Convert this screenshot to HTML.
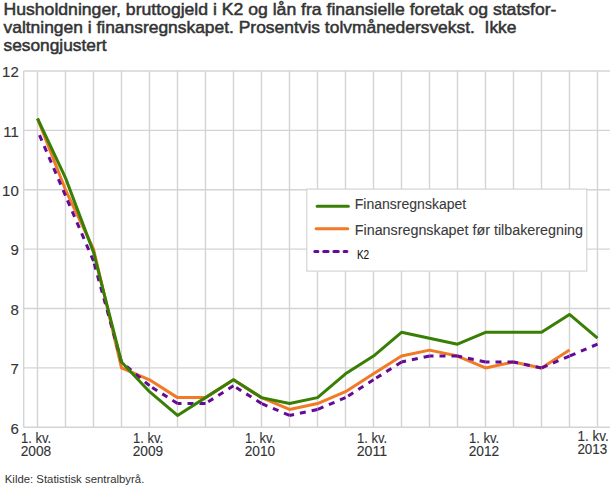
<!DOCTYPE html>
<html><head><meta charset="utf-8"><style>
html,body{margin:0;padding:0;background:#fff;width:610px;height:488px;overflow:hidden}
svg{display:block}
text{font-family:"Liberation Sans",sans-serif}
</style></head><body>
<svg width="610" height="488" viewBox="0 0 610 488">
<g font-size="17" fill="#333" stroke="#333" stroke-width="0.5">
<text x="3.5" y="14.9" textLength="553" lengthAdjust="spacingAndGlyphs">Husholdninger, bruttogjeld i K2 og lån fra finansielle foretak og statsfor-</text>
<text x="3.5" y="32.7" textLength="513" lengthAdjust="spacingAndGlyphs">valtningen i finansregnskapet. Prosentvis tolvmånedersvekst.&#160; Ikke</text>
<text x="3.5" y="50.5" textLength="103" lengthAdjust="spacingAndGlyphs">sesongjustert</text>
</g>
<g stroke="#d4d4d4" stroke-width="1.4" fill="none">
<line x1="23.7" y1="71.00" x2="610" y2="71.00"/>
<line x1="23.7" y1="130.38" x2="610" y2="130.38"/>
<line x1="23.7" y1="189.77" x2="610" y2="189.77"/>
<line x1="23.7" y1="249.15" x2="610" y2="249.15"/>
<line x1="23.7" y1="308.53" x2="610" y2="308.53"/>
<line x1="23.7" y1="367.92" x2="610" y2="367.92"/>
<line x1="23.7" y1="427.30" x2="610" y2="427.30"/>
<line x1="37.50" y1="71.00" x2="37.50" y2="427.30"/>
<line x1="65.50" y1="71.00" x2="65.50" y2="427.30"/>
<line x1="93.50" y1="71.00" x2="93.50" y2="427.30"/>
<line x1="121.50" y1="71.00" x2="121.50" y2="427.30"/>
<line x1="149.50" y1="71.00" x2="149.50" y2="427.30"/>
<line x1="177.50" y1="71.00" x2="177.50" y2="427.30"/>
<line x1="205.50" y1="71.00" x2="205.50" y2="427.30"/>
<line x1="233.50" y1="71.00" x2="233.50" y2="427.30"/>
<line x1="261.50" y1="71.00" x2="261.50" y2="427.30"/>
<line x1="289.50" y1="71.00" x2="289.50" y2="427.30"/>
<line x1="317.50" y1="71.00" x2="317.50" y2="427.30"/>
<line x1="345.50" y1="71.00" x2="345.50" y2="427.30"/>
<line x1="373.50" y1="71.00" x2="373.50" y2="427.30"/>
<line x1="401.50" y1="71.00" x2="401.50" y2="427.30"/>
<line x1="429.50" y1="71.00" x2="429.50" y2="427.30"/>
<line x1="457.50" y1="71.00" x2="457.50" y2="427.30"/>
<line x1="485.50" y1="71.00" x2="485.50" y2="427.30"/>
<line x1="513.50" y1="71.00" x2="513.50" y2="427.30"/>
<line x1="541.50" y1="71.00" x2="541.50" y2="427.30"/>
<line x1="569.50" y1="71.00" x2="569.50" y2="427.30"/>
<line x1="597.50" y1="71.00" x2="597.50" y2="427.30"/>
<line x1="23.7" y1="71.00" x2="23.7" y2="427.30"/>
</g>
<g fill="#333" font-size="15" stroke="#333" stroke-width="0.12">
<text x="18.8" y="77.20" text-anchor="end">12</text>
<text x="18.8" y="136.58" text-anchor="end">11</text>
<text x="18.8" y="195.97" text-anchor="end">10</text>
<text x="18.8" y="255.35" text-anchor="end">9</text>
<text x="18.8" y="314.73" text-anchor="end">8</text>
<text x="18.8" y="374.12" text-anchor="end">7</text>
<text x="18.8" y="433.50" text-anchor="end">6</text>
</g>
<g fill="#333" font-size="15.5" stroke="#333" stroke-width="0.12">
<text x="20.90" y="442.8" textLength="30.2" lengthAdjust="spacingAndGlyphs">1. kv.</text><text x="20.70" y="455.8" textLength="30.5" lengthAdjust="spacingAndGlyphs">2008</text>
<text x="132.90" y="442.8" textLength="30.2" lengthAdjust="spacingAndGlyphs">1. kv.</text><text x="132.70" y="455.8" textLength="30.5" lengthAdjust="spacingAndGlyphs">2009</text>
<text x="244.90" y="442.8" textLength="30.2" lengthAdjust="spacingAndGlyphs">1. kv.</text><text x="244.70" y="455.8" textLength="30.5" lengthAdjust="spacingAndGlyphs">2010</text>
<text x="356.90" y="442.8" textLength="30.2" lengthAdjust="spacingAndGlyphs">1. kv.</text><text x="356.70" y="455.8" textLength="30.5" lengthAdjust="spacingAndGlyphs">2011</text>
<text x="468.90" y="442.8" textLength="30.2" lengthAdjust="spacingAndGlyphs">1. kv.</text><text x="468.70" y="455.8" textLength="30.5" lengthAdjust="spacingAndGlyphs">2012</text>
<text x="577.6" y="440.6" textLength="31.2" lengthAdjust="spacingAndGlyphs">1. kv.</text><text x="577.4" y="454.2" textLength="29.9" lengthAdjust="spacingAndGlyphs">2013</text>
</g>
<g fill="none" stroke-width="3" stroke-linejoin="round">
<polyline stroke="#f07a26" points="37.50,118.51 65.50,189.77 93.50,249.15 121.50,367.92 149.50,379.79 177.50,397.61 205.50,397.61 233.50,379.79 261.50,397.61 289.50,409.49 317.50,403.55 345.50,391.67 373.50,373.85 401.50,356.04 429.50,350.10 457.50,356.04 485.50,367.92 513.50,361.98 541.50,367.92 569.50,350.10"/>
<g stroke="#640a96" stroke-linecap="butt"><line x1="37.50" y1="130.38" x2="65.50" y2="195.70" stroke-dasharray="6 6" stroke-dashoffset="6.930"/><line x1="65.50" y1="195.70" x2="93.50" y2="261.03" stroke-dasharray="6 6" stroke-dashoffset="6.930"/><line x1="93.50" y1="261.03" x2="121.50" y2="361.98" stroke-dasharray="6 6" stroke-dashoffset="9.237"/><line x1="121.50" y1="361.98" x2="149.50" y2="385.73" stroke-dasharray="6 6" stroke-dashoffset="5.282"/><line x1="149.50" y1="385.73" x2="177.50" y2="403.55" stroke-dasharray="6 6" stroke-dashoffset="8.813"/><line x1="177.50" y1="403.55" x2="205.50" y2="403.55" stroke-dasharray="6 6" stroke-dashoffset="2.000"/><line x1="205.50" y1="403.55" x2="233.50" y2="385.73" stroke-dasharray="6 6" stroke-dashoffset="8.813"/><line x1="233.50" y1="385.73" x2="261.50" y2="403.55" stroke-dasharray="6 6" stroke-dashoffset="8.813"/><line x1="261.50" y1="403.55" x2="289.50" y2="415.42" stroke-dasharray="6 6" stroke-dashoffset="11.585"/><line x1="289.50" y1="415.42" x2="317.50" y2="409.49" stroke-dasharray="6 6" stroke-dashoffset="1.377"/><line x1="317.50" y1="409.49" x2="345.50" y2="397.61" stroke-dasharray="6 6" stroke-dashoffset="11.585"/><line x1="345.50" y1="397.61" x2="373.50" y2="379.79" stroke-dasharray="6 6" stroke-dashoffset="8.813"/><line x1="373.50" y1="379.79" x2="401.50" y2="361.98" stroke-dasharray="6 6" stroke-dashoffset="8.813"/><line x1="401.50" y1="361.98" x2="429.50" y2="356.04" stroke-dasharray="6 6" stroke-dashoffset="1.377"/><line x1="429.50" y1="356.04" x2="457.50" y2="356.04" stroke-dasharray="6 6" stroke-dashoffset="2.000"/><line x1="457.50" y1="356.04" x2="485.50" y2="361.98" stroke-dasharray="6 6" stroke-dashoffset="1.377"/><line x1="485.50" y1="361.98" x2="513.50" y2="361.98" stroke-dasharray="6 6" stroke-dashoffset="2.000"/><line x1="513.50" y1="361.98" x2="541.50" y2="367.92" stroke-dasharray="6 6" stroke-dashoffset="1.377"/><line x1="541.50" y1="367.92" x2="569.50" y2="356.04" stroke-dasharray="6 6" stroke-dashoffset="11.585"/><line x1="569.50" y1="356.04" x2="597.50" y2="344.16" stroke-dasharray="6 6" stroke-dashoffset="11.585"/></g>
<polyline stroke="#3a7f05" points="37.50,118.51 65.50,177.89 93.50,252.12 121.50,361.98 149.50,391.67 177.50,415.42 205.50,397.61 233.50,379.79 261.50,397.61 289.50,403.55 317.50,397.61 345.50,373.85 373.50,356.04 401.50,332.29 429.50,338.23 457.50,344.16 485.50,332.29 513.50,332.29 541.50,332.29 569.50,314.47 597.50,338.23"/>
</g>
<rect x="306.8" y="189.1" width="280" height="82" fill="#fff" stroke="#d4d4d4" stroke-width="1.2"/>
<g stroke-width="3" stroke-linecap="round">
<line x1="317.2" y1="206.2" x2="348.3" y2="206.2" stroke="#3a7f05"/>
<line x1="316.1" y1="228.7" x2="347.8" y2="228.7" stroke="#f07a26"/>
<line x1="314.8" y1="251.4" x2="346.9" y2="251.4" stroke="#640a96" stroke-dasharray="4.4 5.8" stroke-dashoffset="1.3"/>
</g>
<g fill="#3a3a3a" font-size="15.3" stroke="#3a3a3a" stroke-width="0.1">
<text x="354.8" y="208.9" textLength="111.4" lengthAdjust="spacingAndGlyphs">Finansregnskapet</text>
<text x="354.8" y="235.2" textLength="228.2" lengthAdjust="spacingAndGlyphs">Finansregnskapet før tilbakeregning</text>
<text x="356.9" y="259" font-size="13.6" fill="#111" textLength="12.3" lengthAdjust="spacingAndGlyphs">K2</text>
</g>
<text x="4.8" y="482.7" font-size="10.8" fill="#333" textLength="139.5" lengthAdjust="spacingAndGlyphs">Kilde: Statistisk sentralbyrå.</text>
</svg>
</body></html>
